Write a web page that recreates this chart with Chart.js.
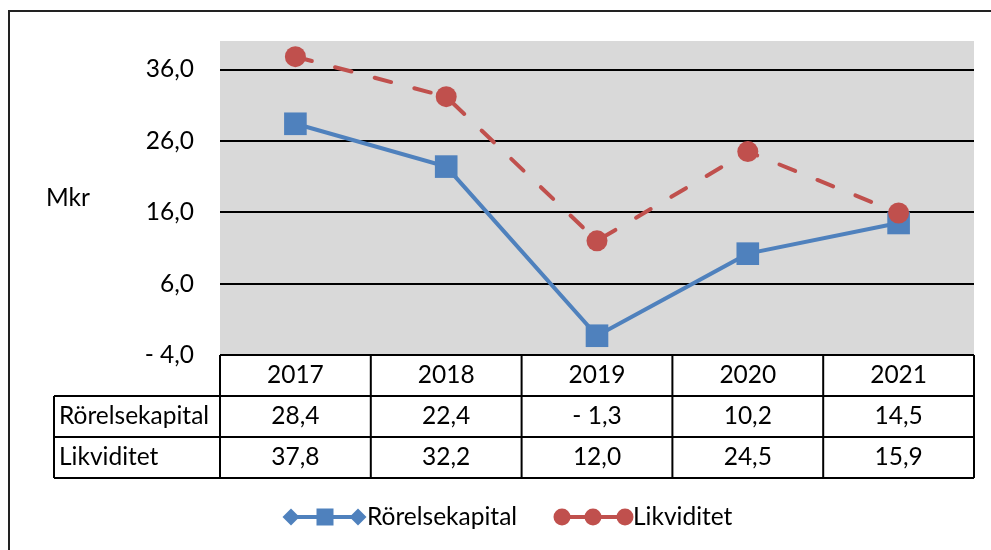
<!DOCTYPE html>
<html>
<head>
<meta charset="utf-8">
<script src="https://cdn.jsdelivr.net/npm/chart.js@4"></script>
<style>
  html, body { margin: 0; padding: 0; background: #fff; overflow: hidden; }
  #wrap { width: 991px; height: 550px; }
</style>
</head>
<body>
<div id="wrap"><canvas id="chart" width="991" height="550"></canvas></div>
<script>
const years = ['2017', '2018', '2019', '2020', '2021'];
const rorelsekapital = [28.4, 22.4, -1.3, 10.2, 14.5];
const likviditet = [37.8, 32.2, 12.0, 24.5, 15.9];
const yTicks = [-4, 6, 16, 26, 36];

const FONT = 'Lato, "Open Sans", sans-serif';
const FSIZE = 24.5;
const blue = '#4F81BD';
const red = '#C0504D';

// svenska formatet, t.ex. "- 4,0"
function fmt(v) {
    const s = Math.abs(v).toFixed(1).replace('.', ',');
    return v < 0 ? '- ' + s : s;
}

// Datatabell, ram och legend //
const extras = {
    id: 'extras',
    beforeDraw(chart) {
        const ctx = chart.ctx;
        const a = chart.chartArea;
        ctx.save();
        ctx.fillStyle = '#D9D9D9';
        ctx.fillRect(a.left, a.top, a.right - a.left, a.bottom - a.top);
        ctx.restore();
    },
    afterDraw(chart) {
        const ctx = chart.ctx;
        const a = chart.chartArea;
        const x = chart.scales.x;
        const y = chart.scales.y;
        const rowH = 41;
        const labelLeft = 54;
        const colW = (a.right - a.left) / years.length;

        ctx.save();
        // yttre ram
        ctx.strokeStyle = '#222';
        ctx.lineWidth = 2;
        ctx.beginPath();
        ctx.moveTo(9, 560);
        ctx.lineTo(9, 11);
        ctx.lineTo(1000, 11);
        ctx.stroke();

        // tabellens linjer
        ctx.strokeStyle = '#000';
        ctx.lineWidth = 2;
        ctx.beginPath();
        ctx.moveTo(a.left, a.bottom);
        ctx.lineTo(a.right, a.bottom);
        for (let r = 1; r <= 3; r++) {
            ctx.moveTo(labelLeft, a.bottom + r * rowH);
            ctx.lineTo(a.right, a.bottom + r * rowH);
        }
        for (let c = 0; c <= years.length; c++) {
            ctx.moveTo(a.left + c * colW, a.bottom);
            ctx.lineTo(a.left + c * colW, a.bottom + 3 * rowH);
        }
        ctx.moveTo(labelLeft, a.bottom + rowH);
        ctx.lineTo(labelLeft, a.bottom + 3 * rowH);
        ctx.stroke();

        ctx.fillStyle = '#000';
        ctx.font = FSIZE + 'px ' + FONT;
        ctx.textBaseline = 'middle';

        // y-axelns etiketter
        ctx.textAlign = 'right';
        yTicks.forEach(v => {
            ctx.fillText(fmt(v), 194, y.getPixelForValue(v));
        });

        ctx.textAlign = 'center';
        const rows = [rorelsekapital, likviditet];
        years.forEach((yr, i) => {
            const cx = x.getPixelForValue(i);
            ctx.fillText(yr, cx, a.bottom + rowH / 2);
            rows.forEach((vals, r) => {
                ctx.fillText(fmt(vals[i]), cx, a.bottom + (r + 1.5) * rowH);
            });
        });
        ctx.textAlign = 'left';
        chart.data.datasets.slice().reverse().forEach((ds, r) => {
            ctx.fillText(ds.label, labelLeft + 5, a.bottom + (r + 1.5) * rowH);
        });

        // Mkr
        ctx.fillText('Mkr', 46, 198);

        // legend
        const ly = 517;
        ctx.lineWidth = 4;
        ctx.strokeStyle = blue;
        ctx.fillStyle = blue;
        ctx.beginPath();
        ctx.moveTo(285, ly);
        ctx.lineTo(364, ly);
        ctx.stroke();
        [291, 358].forEach(px => {
            ctx.beginPath();
            ctx.moveTo(px - 8.5, ly);
            ctx.lineTo(px, ly - 8.5);
            ctx.lineTo(px + 8.5, ly);
            ctx.lineTo(px, ly + 8.5);
            ctx.closePath();
            ctx.fill();
        });
        ctx.fillRect(325 - 8.5, ly - 8.5, 17, 17);

        ctx.strokeStyle = red;
        ctx.fillStyle = red;
        ctx.beginPath();
        ctx.moveTo(556, ly);
        ctx.lineTo(631, ly);
        ctx.stroke();
        [562, 593, 625].forEach(px => {
            ctx.beginPath();
            ctx.arc(px, ly, 8.5, 0, Math.PI * 2);
            ctx.fill();
        });

        ctx.fillStyle = '#000';
        ctx.fillText('Rörelsekapital', 367, ly);
        ctx.fillText('Likviditet', 633, ly);
        ctx.restore();
    }
};

new Chart(document.querySelector('#chart').getContext('2d'), {
    type: 'line',
    data: {
        labels: years,
        datasets: [
            {
                label: 'Likviditet',
                data: likviditet,
                borderColor: red,
                backgroundColor: red,
                borderWidth: 4,
                borderDash: [17, 24],
                borderCapStyle: 'round',
                pointStyle: 'circle',
                pointRadius: 10.5,
                pointBorderWidth: 0,
                order: 0
            },
            {
                label: 'Rörelsekapital',
                data: rorelsekapital,
                borderColor: blue,
                backgroundColor: blue,
                borderWidth: 4,
                pointStyle: 'rect',
                pointRadius: 16,
                pointBorderWidth: 0,
                order: 1
            }
        ]
    },
    options: {
        responsive: false,
        animation: false,
        layout: { padding: { top: 41, right: 17, bottom: 195, left: 0 } },
        plugins: {
            legend: { display: false },
            tooltip: { enabled: false }
        },
        scales: {
            x: {
                display: false,
                offset: true
            },
            y: {
                min: -4,
                max: 40,
                afterBuildTicks: (scale) => { scale.ticks = yTicks.map(v => ({ value: v })); },
                afterFit: (scale) => { scale.width = 220; },
                border: { display: false },
                grid: {
                    color: (c) => c.tick && c.tick.value === -4 ? 'rgba(0,0,0,0)' : '#000',
                    lineWidth: 2,
                    drawTicks: false
                },
                ticks: { display: false }
            }
        }
    },
    plugins: [extras]
});
</script>
</body>
</html>
